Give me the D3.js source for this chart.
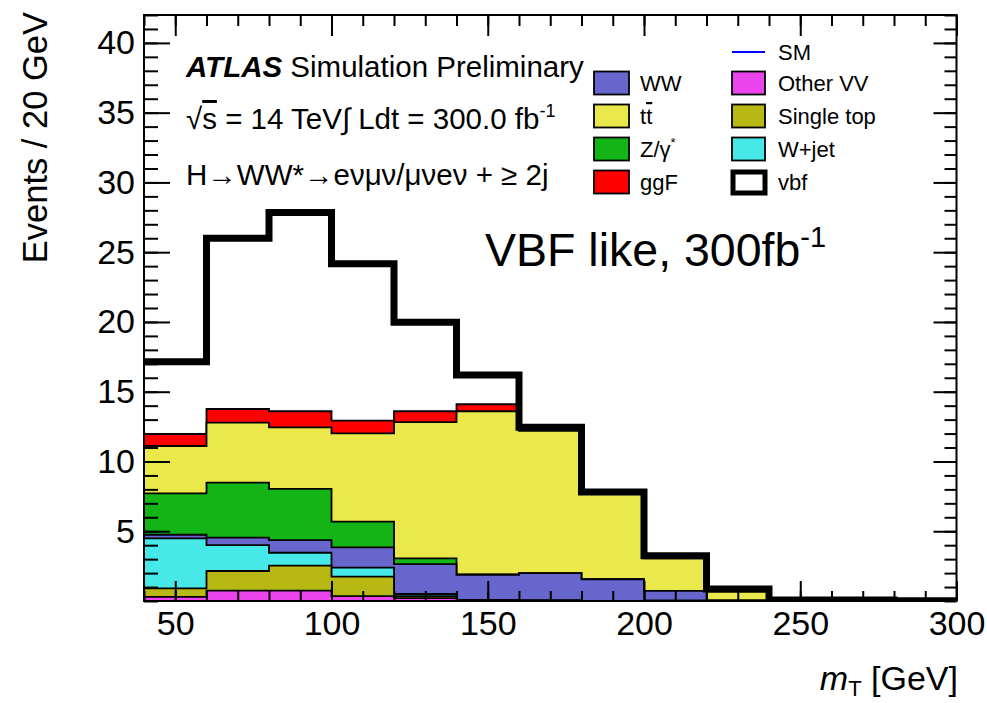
<!DOCTYPE html>
<html><head><meta charset="utf-8">
<script src="https://cdn.jsdelivr.net/npm/d3@7"></script>
<style>
body{margin:0;background:#fff}
svg{display:block}
text{font-family:"Liberation Sans",Arial,Helvetica,sans-serif;fill:#000}
</style>
</head><body>
<svg id="c" width="987" height="703"></svg>
<script>
// ---------------- data ----------------
const binEdges = [40,60,80,100,120,140,160,180,200,220,240,260,280,300];
const otherVV   = [0.30,0.75,0.75,0.35,0.20,0.03,0.02,0.01,0.01,0,0,0,0];
const singleTop = [0.61,1.40,1.78,1.39,0.15,0.05,0.03,0.00,0.01,0,0,0,0];
const wjet      = [3.58,1.86,0.93,0.65,0.15,0.00,0.00,0.00,0.00,0,0,0,0];
const ww        = [0.26,0.53,0.91,1.46,2.15,1.80,1.95,1.55,0.70,0.05,0,0,0];
const zgamma    = [2.97,3.94,3.66,1.84,0.41,0.03,0.00,0.00,0.00,0,0,0,0];
const ttbar     = [3.39,4.30,4.42,6.33,9.76,11.69,10.19,6.17,2.34,0.62,0,0,0];
const ggF       = [0.86,0.98,1.15,0.91,0.78,0.50,0.05,0.02,0.00,0,0,0,0];
const vbf       = [5.18,12.24,14.24,11.25,6.38,2.10,0.21,0.07,0.19,0.19,0.08,0.08,0.01];

const seriesKeys   = ["Other VV","Single top","W+jet","WW","Z/γ*","tt","ggF"];
const seriesValues = [otherVV, singleTop, wjet, ww, zgamma, ttbar, ggF];
const seriesColors = ["#ec44ec","#b8b814","#46e8e8","#6666cc","#12b416","#eae84a","#ff0000"];

const xTicksMajor = [50,100,150,200,250,300];
const yTicksMajor = [5,10,15,20,25,30,35,40];
const xDomain = [40,300];
const yDomain = [0,42];

const legendLeft  = ["WW","tt","Z/γ*","ggF"];
const legendRight = ["SM","Other VV","Single top","W+jet","vbf"];

// ---------------- layout ----------------
const svg = d3.select("#c");
const L = 144, R = 956.5, T = 15, B = 601;
const x = d3.scaleLinear().domain(xDomain).range([L, R]);
const y = d3.scaleLinear().domain(yDomain).range([B, T]);

const allKeys = seriesKeys.concat(["vbf"]);
const allValues = seriesValues.concat([vbf]);
const rows = binEdges.slice(0,-1).map((e,i)=>{
  const r = {x0:e};
  allKeys.forEach((k,j)=>{ r[k] = allValues[j][i]; });
  return r;
});
const stacked = d3.stack().keys(allKeys)(rows);

svg.append("defs").append("clipPath").attr("id","pc")
  .append("rect").attr("x",L).attr("y",T).attr("width",R-L).attr("height",B-T);

function pts(layer){
  const p = rows.map((r,i)=>({x:r.x0, v:layer[i][1]}));
  p.push({x:binEdges[binEdges.length-1], v:layer[layer.length-1][1]});
  return p;
}
const area = d3.area().curve(d3.curveStepAfter)
  .x(d=>x(d.x)).y0(y(0)).y1(d=>y(d.v));
const line = d3.line().curve(d3.curveStepAfter)
  .x(d=>x(d.x)).y(d=>y(d.v));

const gPlot = svg.append("g").attr("clip-path","url(#pc)");
for (let j = seriesKeys.length-1; j >= 0; j--) {
  gPlot.append("path").datum(pts(stacked[j]))
    .attr("d", area)
    .attr("fill", seriesColors[j])
    .attr("stroke", "#000").attr("stroke-width", 1.8)
    .attr("stroke-linejoin","miter");
}
gPlot.append("path").datum(pts(stacked[stacked.length-1]))
  .attr("d", line).attr("fill","none")
  .attr("stroke","#000").attr("stroke-width",7)
  .attr("stroke-linejoin","miter").attr("stroke-linecap","butt");

// ---------------- axes ----------------
const xMinor = d3.range(40,301,10);
const yMinor = d3.range(0,43,1);
function styleAxis(g){
  g.select(".domain").remove();
  g.selectAll("line").attr("stroke","#000").attr("stroke-width",2);
  g.selectAll("text").style("font-family",'"Liberation Sans",Arial,sans-serif')
    .style("font-size","34px").attr("fill","#000");
}
svg.append("g").attr("transform",`translate(0,${B})`)
  .call(d3.axisBottom(x).tickValues(xMinor).tickSize(-10).tickFormat("")).call(styleAxis);
svg.append("g").attr("transform",`translate(0,${B})`)
  .call(d3.axisBottom(x).tickValues(xTicksMajor).tickSize(-20).tickPadding(10).tickFormat(d3.format("d")))
  .call(styleAxis)
  .selectAll("text").attr("y", 34).attr("dy", 0);
svg.append("g").attr("transform",`translate(0,${T})`)
  .call(d3.axisTop(x).tickValues(xMinor).tickSize(-11).tickFormat("")).call(styleAxis);
svg.append("g").attr("transform",`translate(0,${T})`)
  .call(d3.axisTop(x).tickValues(xTicksMajor).tickSize(-21).tickFormat("")).call(styleAxis);
svg.append("g").attr("transform",`translate(${L},0)`)
  .call(d3.axisLeft(y).tickValues(yMinor).tickSize(-14).tickFormat("")).call(styleAxis);
svg.append("g").attr("transform",`translate(${L},0)`)
  .call(d3.axisLeft(y).tickValues(yTicksMajor).tickSize(-26).tickPadding(10).tickFormat(d3.format("d")))
  .call(styleAxis)
  .selectAll("text").attr("x", -9);
svg.append("g").attr("transform",`translate(${R},0)`)
  .call(d3.axisRight(y).tickValues(yMinor).tickSize(-12).tickFormat("")).call(styleAxis);
svg.append("g").attr("transform",`translate(${R},0)`)
  .call(d3.axisRight(y).tickValues(yTicksMajor).tickSize(-23).tickFormat("")).call(styleAxis);

svg.append("rect").attr("x",L).attr("y",T).attr("width",R-L).attr("height",B-T)
  .attr("fill","none").attr("stroke","#000").attr("stroke-width",2);

// axis titles
svg.append("text").attr("transform","translate(47,12) rotate(-90)")
  .attr("text-anchor","end").style("font-size","34.5px").text("Events / 20 GeV");
const xt = svg.append("text").attr("x",958).attr("y",690).attr("text-anchor","end").style("font-size","34px");
xt.append("tspan").style("font-style","italic").text("m");
xt.append("tspan").attr("dy",6).style("font-size","22px").text("T");
xt.append("tspan").attr("dy",-6).text(" [GeV]");

// ATLAS labels
const t1 = svg.append("text").attr("x",186).attr("y",77).style("font-size","29.5px");
t1.append("tspan").style("font-weight","bold").style("font-style","italic").text("ATLAS");
t1.append("tspan").text(" Simulation Preliminary");
const t2 = svg.append("text").attr("x",186).attr("y",129).style("font-size","29.5px");
t2.append("tspan").text("√");
t2.append("tspan").attr("text-decoration","overline").text("s");
t2.append("tspan").text(" = 14 TeV∫ Ldt = 300.0 fb");
t2.append("tspan").attr("dy",-12).style("font-size","18px").text("-1");
svg.append("text").attr("x",186).attr("y",185).style("font-size","29.5px")
  .text("H→WW*→eνμν/μνeν + ≥ 2j");

// VBF like
const t4 = svg.append("text").attr("x",485).attr("y",266).style("font-size","46.5px");
t4.append("tspan").text("VBF like, 300fb");
t4.append("tspan").attr("dy",-19).style("font-size","29px").text("-1");

// legend
const rowY = [52,83,116,149,182];
const lg = svg.append("g");
legendLeft.forEach((k,i)=>{
  const j = seriesKeys.indexOf(k);
  const cy = rowY[i+1];
  lg.append("rect").attr("x",594).attr("y",cy-11.5).attr("width",35).attr("height",23)
    .attr("fill",seriesColors[j]).attr("stroke","#000").attr("stroke-width",1.8);
  const tx = lg.append("text").attr("x",640).attr("y",cy+8).style("font-size","22px");
  if (k === "tt") { tx.append("tspan").text("t"); tx.append("tspan").attr("text-decoration","overline").text("t"); }
  else if (k === "Z/γ*") { tx.append("tspan").text("Z/γ"); tx.append("tspan").attr("dy",-10).style("font-size","13px").text("*"); }
  else tx.text(k);
});
legendRight.forEach((k,i)=>{
  const cy = rowY[i];
  if (k === "SM") {
    lg.append("line").attr("x1",732).attr("x2",765).attr("y1",cy).attr("y2",cy)
      .attr("stroke","#0000ff").attr("stroke-width",2);
  } else if (k === "vbf") {
    lg.append("rect").attr("x",733).attr("y",cy-10).attr("width",32).attr("height",21)
      .attr("fill","#fff").attr("stroke","#000").attr("stroke-width",5);
  } else {
    const j = seriesKeys.indexOf(k);
    lg.append("rect").attr("x",732).attr("y",cy-11.5).attr("width",33).attr("height",23)
      .attr("fill",seriesColors[j]).attr("stroke","#000").attr("stroke-width",1.8);
  }
  lg.append("text").attr("x",778).attr("y",cy+8).style("font-size","22px").text(k);
});
</script>
</body></html>
